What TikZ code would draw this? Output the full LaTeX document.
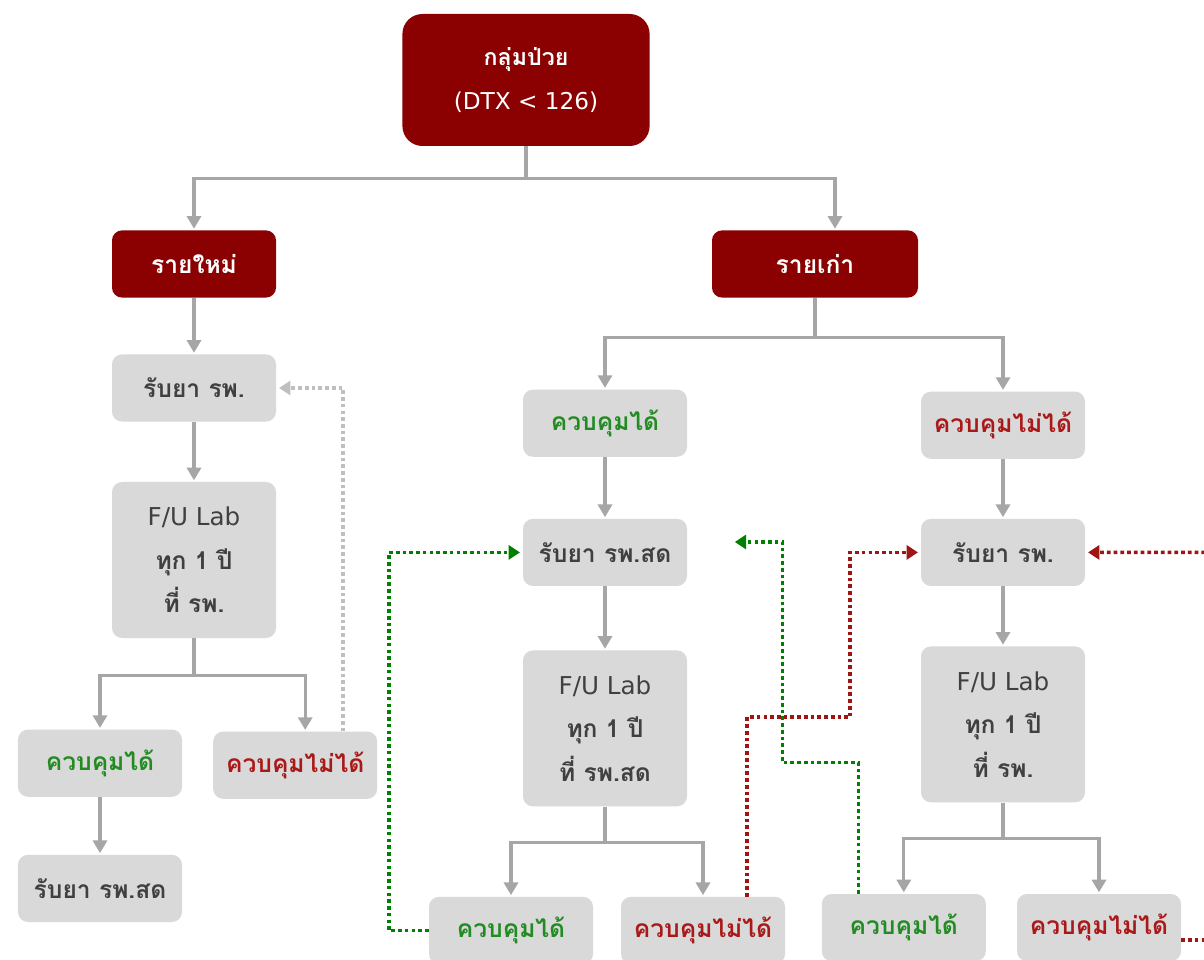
\documentclass[tikz,border=0pt]{standalone}
\usepackage{fontspec}
\setmainfont{DejaVu Sans}
\newfontfamily\thaifont[Script=Thai]{Loma}
\usetikzlibrary{arrows.meta,positioning}
\definecolor{boxred}{RGB}{139,0,0}
\definecolor{boxgrey}{RGB}{217,217,217}
\definecolor{textgrey}{RGB}{64,64,64}
\definecolor{okgreen}{RGB}{34,139,34}
\definecolor{badred}{RGB}{170,25,25}
\definecolor{linegrey}{RGB}{166,166,166}
\definecolor{dotgrey}{RGB}{191,191,191}
\definecolor{dotgreen}{RGB}{0,128,0}
\definecolor{dotred}{RGB}{160,20,20}

\begin{document}
\begin{tikzpicture}[node distance=3cm,on grid,
	box/.style={rectangle,rounded corners=0.25cm,minimum width=4.1cm,minimum height=1.68cm,align=center,font=\fontsize{17.5}{31}\selectfont},
	redbox/.style={box,fill=boxred,text=white},
	greybox/.style={box,fill=boxgrey,text=textgrey},
	tallbox/.style={greybox,minimum height=3.9cm},
	link/.style={color=linegrey,line width=2.2pt,-{Triangle[width=10pt,length=9pt]},shorten >=1pt},
	back/.style={line width=2.6pt,dash pattern=on 2.6pt off 2.2pt,-{Triangle[width=10pt,length=8pt]},shorten >=2pt}]

	\path[use as bounding box,fill=white] (0,0) rectangle (30.1,-24);

	\node[redbox,minimum width=6.18cm,minimum height=3.3cm,rounded corners=0.5cm,font=\fontsize{16.5}{31}\selectfont] (top) at (13.15,-2) {\thaifont\bfseries กลุ่มป่วย\\(DTX < 126)};
	\node[redbox] (new) at (4.85,-6.6) {\thaifont\bfseries รายใหม่};
	\node[redbox,minimum width=5.15cm] (old) at (20.375,-6.6) {\thaifont\bfseries รายเก่า};

	\node[greybox] (n_1) [below=3.1cm of new] {\thaifont\bfseries รับยา รพ.};
	\node[tallbox] (n_2) [below=4.3cm of n_1] {F/U Lab\\\thaifont\bfseries ทุก 1 ปี\\\thaifont\bfseries ที่ รพ.};
	\node[greybox,text=okgreen] (n_3) [below left=5.08cm and 2.35cm of n_2] {\thaifont\bfseries ควบคุมได้};
	\node[greybox,text=badred] (n_4) [below right=5.13cm and 2.53cm of n_2] {\thaifont\bfseries ควบคุมไม่ได้};
	\node[greybox] (n_5) [below=3.13cm of n_3] {\thaifont\bfseries รับยา รพ.สด};

	\node[greybox,text=okgreen] (g_1) [below left=3.98cm and 5.25cm of old] {\thaifont\bfseries ควบคุมได้};
	\node[greybox] (g_2) [below=3.23cm of g_1] {\thaifont\bfseries รับยา รพ.สด};
	\node[tallbox] (g_3) [below=4.4cm of g_2] {F/U Lab\\\thaifont\bfseries ทุก 1 ปี\\\thaifont\bfseries ที่ รพ.สด};
	\node[greybox,text=okgreen] (g_4) [below left=5.05cm and 2.35cm of g_3] {\thaifont\bfseries ควบคุมได้};
	\node[greybox,text=badred] (g_5) [below right=5.05cm and 2.45cm of g_3] {\thaifont\bfseries ควบคุมไม่ได้};

	\node[greybox,text=badred] (b_1) [below right=4.03cm and 4.7cm of old] {\thaifont\bfseries ควบคุมไม่ได้};
	\node[greybox] (b_2) [below=3.18cm of b_1] {\thaifont\bfseries รับยา รพ.};
	\node[tallbox] (b_3) [below=4.3cm of b_2] {F/U Lab\\\thaifont\bfseries ทุก 1 ปี\\\thaifont\bfseries ที่ รพ.};
	\node[greybox,text=okgreen] (b_4) [below left=5.08cm and 2.48cm of b_3] {\thaifont\bfseries ควบคุมได้};
	\node[greybox,text=badred] (b_5) [below right=5.08cm and 2.4cm of b_3] {\thaifont\bfseries ควบคุมไม่ได้};

	\coordinate (greenend) at (18.3,-13.55);
	\coordinate (redin) at (30.8,-13.81);
	\coordinate (redout) at (30.8,-23.5);

	\draw[link] (top.south) -- ++(0,-0.8) -| (new.north);
	\draw[link] (top.south) -- ++(0,-0.8) -| ([xshift=0.5cm]old.north);
	\draw[link] (n_2.south) -- ++(0,-0.93) -| (n_3.north);
	\draw[link] (n_2.south) -- ++(0,-0.93) -| ([xshift=0.25cm]n_4.north);
	\draw[link] (old.south) -- ++(0,-1) -| (g_1.north);
	\draw[link] (old.south) -- ++(0,-1) -| (b_1.north);
	\draw[link] (g_3.south) -- ++(0,-0.9) -| (g_4.north);
	\draw[link] (g_3.south) -- ++(0,-0.9) -| (g_5.north);
	\draw[link] (b_3.south) -- ++(0,-0.9) -| (b_4.north);
	\draw[link] (b_3.south) -- ++(0,-0.9) -| (b_5.north);
	\path[link]
	(new) edge (n_1)
	(n_1) edge (n_2)
	(n_3) edge (n_5)
	(g_1) edge (g_2)
	(g_2) edge (g_3)
	(b_1) edge (b_2)
	(b_2) edge (b_3);

	\draw[back,draw=dotgrey] ([xshift=1.2cm]n_4.north) |- (n_1.east);
	\draw[back,draw=dotgreen] (g_4.west) -- ++(-1,0) |- (g_2.west);
	\draw[back,draw=dotred] ([xshift=1.1cm]g_5.north) -- ++(0,4.48) -- ++(2.58,0) |- (b_2.west);
	\draw[back,draw=dotgreen] ([xshift=-1.13cm]b_4.north) -- ++(0,3.28) -- ++(-1.9,0) |- (greenend);
	\draw[back,-,draw=dotred] (b_5.east |- redout) -- (redout);
	\draw[back,draw=dotred] (redin) -- (b_2.east);
\end{tikzpicture}
\end{document}
